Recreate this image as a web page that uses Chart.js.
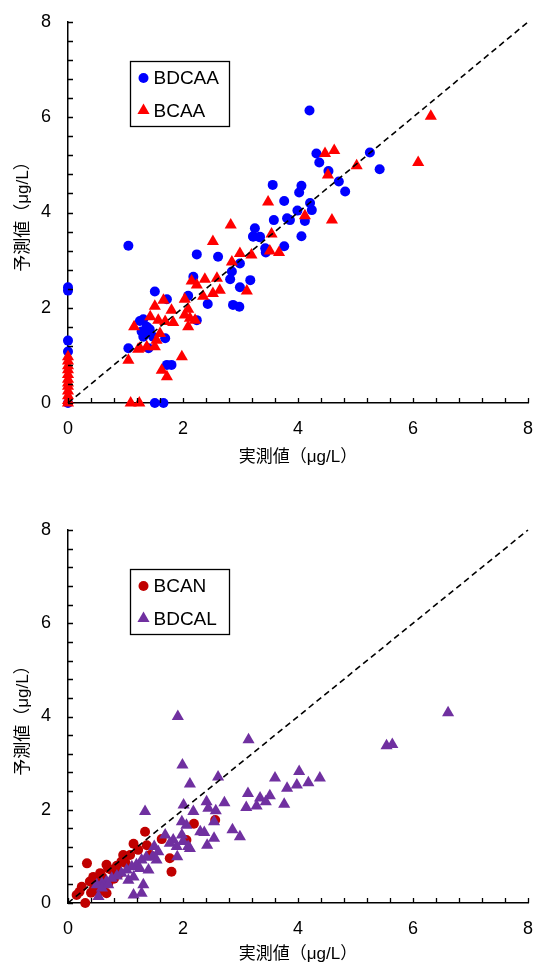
<!DOCTYPE html>
<html>
<head>
<meta charset="utf-8">
<script src="https://cdn.jsdelivr.net/npm/chart.js"></script>
<style>
html, body { margin: 0; padding: 0; background: #fff; }
.box { position: absolute; left: 0; width: 535px; height: 483px; }
</style>
</head>
<body>
<div class="box" style="top:0"><canvas id="c1"></canvas></div>
<div class="box" style="top:483px"><canvas id="c2"></canvas></div>
<script>
// axis stuff
var axisMin = 0, axisMax = 8, labelStep = 2, minorStep = 0.4;
var xTitle = "実測値（μg/L）";
var yTitle = "予測値（μg/L）";

// top chart: [measured, predicted]
var bdcaa = [
  [0,0],[0,1.08],[0,1.31],[0,2.36],[0,2.43],
  [1.05,3.30],[2.24,3.12],[2.61,3.07],[1.51,2.34],[2.18,2.65],[2.09,2.25],[1.72,2.18],[2.43,2.08],
  [2.87,2.06],[2.98,2.02],[2.82,2.60],[2.99,2.43],[3.17,2.58],[1.31,1.76],[1.37,1.60],[1.34,1.47],
  [1.31,1.39],[1.48,1.39],[1.25,1.72],[1.42,1.55],[1.28,1.50],[1.69,1.36],[1.05,1.15],[1.40,1.15],
  [1.72,0.80],[1.80,0.80],[1.51,0],[1.66,0],[2.24,1.74],[3.22,3.49],[3.34,3.49],[3.46,3.21],
  [2.99,2.93],[2.85,2.76],[4.32,5.24],[4.37,5.05],[4.53,4.87],[4.71,4.65],[4.82,4.44],[3.56,4.58],
  [4.06,4.56],[4.02,4.42],[3.76,4.24],[4.21,4.20],[4.24,4.05],[3.99,4.04],[3.58,3.84],[3.81,3.88],
  [3.86,3.84],[4.12,3.82],[4.06,3.50],[3.25,3.67],[3.22,3.50],[3.33,3.48],[3.43,3.25],[3.44,3.16],
  [3.76,3.29],[4.20,6.14],[5.25,5.26],[5.42,4.91]
];
var bcaa = [
  [0,0],[0,0.05],[0,0.15],[0,0.25],[0,0.35],[0,0.42],[0,0.5],[0,0.6],[0,0.7],[0,0.78],[0,0.88],[0,0.97],
  [2.52,3.39],[2.99,3.14],[3.19,3.11],[2.85,2.96],[2.59,2.62],[2.64,2.37],[2.38,2.60],[2.15,2.56],
  [2.24,2.48],[2.52,2.30],[2.35,2.24],[2.03,2.18],[3.11,2.35],[1.66,2.16],[1.51,2.03],[1.80,1.95],
  [2.09,1.97],[2.03,1.85],[2.12,1.78],[2.21,1.74],[2.09,1.60],[1.43,1.81],[1.57,1.74],[1.69,1.71],
  [1.83,1.69],[1.15,1.60],[1.60,1.46],[1.54,1.32],[1.51,1.18],[1.37,1.18],[1.22,1.13],[1.25,1.15],
  [1.05,0.90],[1.98,0.97],[1.63,0.69],[1.72,0.55],[1.09,0],[1.24,0],
  [4.47,5.24],[4.63,5.30],[4.52,4.79],[5.02,4.98],[3.48,4.22],[4.59,3.84],[4.12,3.93],[2.83,3.74],
  [3.54,3.55],[3.51,3.19],[3.67,3.16],[6.31,6.02],[6.09,5.05]
];

// bottom chart
var bcan = [
  [0.30,0],[0.15,0.17],[0.20,0.24],[0.24,0.35],[0.38,0.46],[0.44,0.56],[0.56,0.64],[0.53,0.24],
  [0.61,0.35],[0.67,0.21],[0.70,0.42],[0.67,0.82],[0.70,0.74],[0.76,0.71],[0.33,0.85],[0.96,1.03],
  [1.08,1.03],[0.93,0.89],[1.14,1.27],[1.37,1.24],[1.22,1.14],[1.34,1.53],[1.43,1.03],[1.63,1.37],
  [1.77,0.96],[1.80,0.67],[2.06,1.35],[2.19,1.70],[2.56,1.78],[0.45,0.30],[0.50,0.50],[0.85,0.80],
  [0.88,0.62],[0.80,0.52],[1.00,0.86],[0.60,0.55],[0.40,0.22]
];
var bdcal = [
  [6.61,4.08],[5.54,3.37],[5.64,3.40],[3.14,3.50],[2.61,2.70],[2.12,2.55],[3.60,2.68],[4.02,2.82],
  [4.38,2.68],[3.81,2.46],[3.98,2.53],[4.18,2.58],[3.13,2.35],[3.10,2.05],[3.34,2.25],[3.51,2.30],
  [3.44,2.17],[3.28,2.08],[3.76,2.12],[2.72,2.15],[2.41,2.17],[2.44,2.03],[2.57,1.98],[2.54,1.74],
  [2.18,1.96],[2.30,1.53],[2.37,1.51],[2.54,1.39],[2.42,1.24],[2.86,1.57],[2.99,1.42],[2.12,1.17],
  [1.91,4.00],[1.99,2.96],[1.34,1.96],[2.01,2.10],[1.98,1.74],[2.06,1.67],[1.69,1.46],[1.83,1.35],
  [1.89,1.21],[1.77,1.28],[1.98,1.46],[2.09,1.21],[2.00,1.32],[1.50,1.21],[1.57,1.10],[1.47,0.99],
  [1.54,0.92],[1.90,0.99],[1.36,0.98],[1.28,0.92],[1.19,0.82],[1.11,0.78],[1.25,0.74],[1.40,0.71],
  [1.02,0.71],[0.93,0.64],[0.85,0.58],[0.76,0.53],[0.67,0.46],[0.59,0.42],[0.50,0.39],[1.05,0.49],
  [1.14,0.56],[1.31,0.39],[1.28,0.21],[1.14,0.17],[0.53,0.14],[0.59,0.32],[0.70,0.39]
];
var oneToOne = [[0,0],[8,8]];

var FONT = "'Liberation Sans', Arial, 'Noto Sans CJK JP', sans-serif";
Chart.defaults.font.family = FONT;
Chart.defaults.color = '#000';

function pts(a) { return a.map(function (p) { return {x: p[0], y: p[1]}; }); }

// small ticks pointing into the plot
var innerTicks = {
  id: 'innerTicks',
  afterDraw: function (chart) {
    var ctx = chart.ctx, area = chart.chartArea, sx = chart.scales.x, sy = chart.scales.y;
    ctx.save();
    ctx.setLineDash([]);
    ctx.strokeStyle = '#000';
    ctx.lineWidth = 1.3;
    ctx.beginPath();
    for (var i = 0; i <= Math.round((axisMax - axisMin) / minorStep); i++) {
      var v = axisMin + i * minorStep;
      var px = Math.round(sx.getPixelForValue(v)) + 0.5;
      ctx.moveTo(px, area.bottom);
      ctx.lineTo(px, area.bottom - 5);
      var py = Math.round(sy.getPixelForValue(v)) + 0.5;
      ctx.moveTo(area.left, py);
      ctx.lineTo(area.left + 5, py);
    }
    ctx.stroke();
    ctx.restore();
  }
};

// boxed legend inside the plot
var boxLegend = {
  id: 'boxLegend',
  afterDraw: function (chart) {
    var ctx = chart.ctx, area = chart.chartArea;
    var x0 = area.left + 62.5, y0 = area.top + 39.5, w = 99, h = 65;
    ctx.save();
    ctx.setLineDash([]);
    ctx.fillStyle = '#fff';
    ctx.fillRect(x0, y0, w, h);
    ctx.strokeStyle = '#000';
    ctx.lineWidth = 1.3;
    ctx.strokeRect(x0, y0, w, h);
    var items = chart.data.datasets.filter(function (d) { return d.legendRow != null; });
    items.sort(function (a, b) { return a.legendRow - b.legendRow; });
    items.forEach(function (d, i) {
      var cy = y0 + 16.5 + i * 32.5;
      ctx.fillStyle = d.backgroundColor;
      Chart.helpers.drawPoint(ctx, {pointStyle: d.pointStyle, radius: d.pointRadius, borderWidth: 0, rotation: 0}, x0 + 13, cy);
      ctx.fillStyle = '#000';
      ctx.font = '19px ' + FONT;
      ctx.textBaseline = 'middle';
      ctx.textAlign = 'left';
      ctx.fillText(d.label, x0 + 23, cy + 1);
    });
    ctx.restore();
  }
};

function makeChart(id, s1, s2, padTop, xHeight, xTitlePad) {
  var tickFont = {size: 18};
  var titleFont = {size: 17};
  return new Chart(document.getElementById(id), {
    type: 'scatter',
    data: {
      datasets: [
        {
          type: 'line', label: '1:1', data: pts(oneToOne),
          borderColor: '#000', borderWidth: 1.6, borderDash: [6, 4],
          pointRadius: 0, fill: false, order: 0, clip: false
        },
        {
          label: s2.label, data: pts(s2.data), legendRow: 1,
          pointStyle: s2.style, pointRadius: s2.r, borderWidth: 0,
          backgroundColor: s2.color, borderColor: s2.color, order: 1, clip: false
        },
        {
          label: s1.label, data: pts(s1.data), legendRow: 0,
          pointStyle: s1.style, pointRadius: s1.r, borderWidth: 0,
          backgroundColor: s1.color, borderColor: s1.color, order: 2, clip: false
        }
      ]
    },
    options: {
      responsive: true,
      maintainAspectRatio: false,
      animation: false,
      layout: {padding: {top: padTop, right: 7, bottom: 0, left: 0}},
      plugins: {legend: {display: false}, tooltip: {enabled: false}},
      scales: {
        x: {
          type: 'linear', min: axisMin, max: axisMax,
          ticks: {stepSize: labelStep, font: tickFont, padding: 15, color: '#000'},
          grid: {display: false, drawTicks: false},
          border: {display: true, color: '#000', width: 1.5},
          title: {display: true, text: xTitle, font: titleFont, color: '#000', padding: {top: 0, bottom: xTitlePad}},
          afterFit: function (s) {
            s.height = xHeight;
            s.paddingLeft = 0; s.paddingRight = 0;
          }
        },
        y: {
          type: 'linear', min: axisMin, max: axisMax,
          ticks: {stepSize: labelStep, font: tickFont, padding: 17, color: '#000'},
          grid: {display: false, drawTicks: false},
          border: {display: true, color: '#000', width: 1.5},
          title: {display: true, text: yTitle, font: titleFont, color: '#000', padding: {top: 13, bottom: 0}},
          afterFit: function (s) {
            s.width = 68;
            s.paddingTop = 0; s.paddingBottom = 0;
          }
        }
      }
    },
    plugins: [innerTicks, boxLegend]
  });
}

var chartTop = makeChart('c1',
  {label: 'BDCAA', data: bdcaa, color: '#0000ff', style: 'circle', r: 5},
  {label: 'BCAA', data: bcaa, color: '#ff0000', style: 'triangle', r: 7},
  22, 80, 15);

var chartBottom = makeChart('c2',
  {label: 'BCAN', data: bcan, color: '#c00000', style: 'circle', r: 5},
  {label: 'BDCAL', data: bdcal, color: '#7030a0', style: 'triangle', r: 7},
  47, 63, 1);
</script>
</body>
</html>
